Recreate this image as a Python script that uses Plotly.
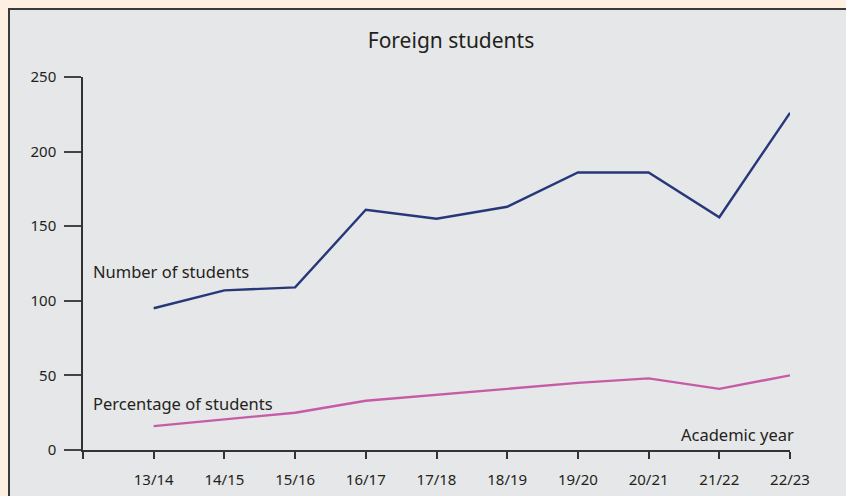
import plotly.graph_objects as go

# Academic years and series values
years = ["13/14", "14/15", "15/16", "16/17", "17/18", "18/19", "19/20", "20/21", "21/22", "22/23"]
number_of_students = [95, 107, 109, 161, 155, 163, 186, 186, 156, 226]
percentage_of_students = [16, 20.5, 25, 33, 37, 41, 45, 48, 41, 50]

y_ticks = [0, 50, 100, 150, 200, 250]

FONT = "Noto Sans"
TEXT = "#231f20"
NAVY = "#27387a"
PINK = "#c65ba8"
PANEL = "#e6e7e8"
CREAM = "#fdf0e0"

W, H = 846, 496
L, R, T, B = 83, 56, 77, 46
pw, ph = W - L - R, H - T - B

xpos = list(range(1, len(years) + 1))

fig = go.Figure()
fig.add_trace(go.Scatter(x=xpos, y=number_of_students, mode="lines",
                         line=dict(color=NAVY, width=2.4), hoverinfo="skip"))
fig.add_trace(go.Scatter(x=xpos, y=percentage_of_students, mode="lines",
                         line=dict(color=PINK, width=2.4), hoverinfo="skip"))


def px_x(p):
    return (p - L) / pw


def px_y(p):
    return (H - B - p) / ph


# grey panel with a dark frame on the top and left
fig.add_shape(type="rect", xref="paper", yref="paper",
              x0=px_x(9), x1=px_x(W + 20), y0=px_y(H + 20), y1=px_y(9),
              fillcolor=PANEL, line=dict(color="#3a3a3a", width=2), layer="below")

fig.add_annotation(x=px_x(91), y=px_y(271), xref="paper", yref="paper",
                   text="Number of students", showarrow=False,
                   xanchor="left", yanchor="middle",
                   font=dict(family=FONT, size=16.5, color=TEXT))
fig.add_annotation(x=px_x(91), y=px_y(403), xref="paper", yref="paper",
                   text="Percentage of students", showarrow=False,
                   xanchor="left", yanchor="middle",
                   font=dict(family=FONT, size=16.5, color=TEXT))
fig.add_annotation(x=px_x(796), y=px_y(434), xref="paper", yref="paper",
                   text="Academic year", showarrow=False,
                   xanchor="right", yanchor="middle",
                   font=dict(family=FONT, size=16.5, color=TEXT))

fig.update_layout(
    width=W, height=H,
    margin=dict(l=L, r=R, t=T, b=B, autoexpand=False),
    paper_bgcolor=CREAM,
    plot_bgcolor="rgba(0,0,0,0)",
    showlegend=False,
    title=dict(text="Foreign students", x=451 / W,
               xanchor="center", y=1 - 41 / H, yanchor="middle",
               xref="container", yref="container",
               font=dict(family=FONT, size=21, color=TEXT)),
    font=dict(family=FONT, color=TEXT),
)

fig.update_xaxes(range=[0, 10], tickvals=[0] + xpos, ticktext=[""] + years,
                 showgrid=False, zeroline=False, showline=True,
                 linecolor="#333333", linewidth=1.5,
                 ticks="outside", ticklen=7, tickwidth=1.5, tickcolor="#333333",
                 ticklabelstandoff=8, automargin=False,
                 tickfont=dict(family=FONT, size=15, color=TEXT),
                 fixedrange=True)
fig.update_yaxes(range=[0, 250], tickvals=y_ticks,
                 showgrid=False, zeroline=False, showline=True,
                 linecolor="#333333", linewidth=1.5,
                 ticks="outside", ticklen=17, tickwidth=1.5, tickcolor="#444444",
                 ticklabelstandoff=5, automargin=False,
                 tickfont=dict(family=FONT, size=15, color=TEXT),
                 fixedrange=True)

fig.write_html("out.html", config={"displayModeBar": False})
